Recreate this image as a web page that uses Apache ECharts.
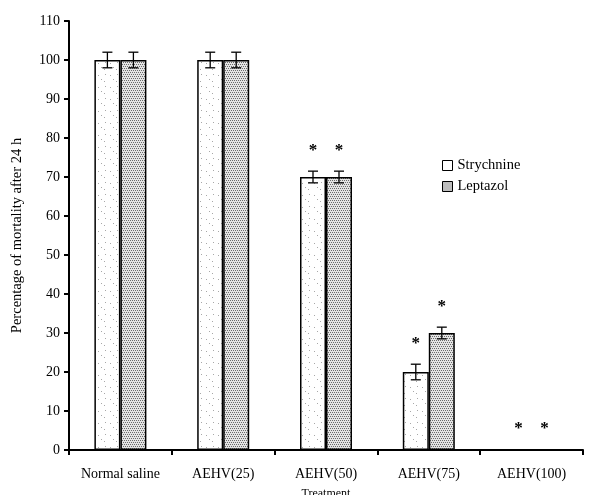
<!DOCTYPE html>
<html><head><meta charset="utf-8">
<script src="https://cdn.jsdelivr.net/npm/echarts@6/dist/echarts.min.js"></script>
<style>html,body{margin:0;padding:0;background:#fff}#c{width:606px;height:495px}</style>
</head><body><div id="c"></div>
<script>
var categories = ['Normal saline', 'AEHV(25)', 'AEHV(50)', 'AEHV(75)', 'AEHV(100)'];
var strychnine = [100, 100, 70, 20, 0];
var strychnineErr = [2, 2, 1.5, 2, 0];
var leptazol = [100, 100, 70, 30, 0];
var leptazolErr = [2, 2, 1.5, 1.5, 0];
var strychnineSig = [false, false, true, true, true];
var leptazolSig = [false, false, true, true, true];
var yTicks = [0, 10, 20, 30, 40, 50, 60, 70, 80, 90, 100, 110];

function makePattern(dense) {
  var c = document.createElement('canvas');
  c.width = 12; c.height = 12;
  var g = c.getContext('2d');
  g.fillStyle = dense ? '#e4e4e4' : '#fff'; g.fillRect(0, 0, 12, 12);
  if (dense) {
    g.fillStyle = '#6a6a6a';
    for (var y = 0; y < 12; y += 2) for (var x = (y % 4 === 0 ? 0 : 1); x < 12; x += 2) g.fillRect(x, y, 1, 1);
  } else {
    g.fillStyle = '#a8a8a8';
    g.fillRect(2, 3, 1, 1); g.fillRect(8, 9, 1, 1); g.fillRect(5, 7, 1, 1); g.fillRect(9, 2, 1, 1);
  }
  return { image: c, repeat: 'repeat' };
}
var patS = makePattern(false), patL = makePattern(true);

var chart = echarts.init(document.getElementById('c'));
var font = 'Liberation Serif';

function errData(vals, errs) {
  return vals.map(function (v, i) { return [i, v - errs[i], v + errs[i]]; });
}
function errSeries(vals, errs, offset) {
  return {
    type: 'custom', z: 5, silent: true,
    renderItem: function (params, api) {
      var lo = api.value(1), hi = api.value(2);
      if (hi === lo) return null;
      var pHi = api.coord([api.value(0), hi]);
      var pLo = api.coord([api.value(0), lo]);
      var x = pHi[0] + offset;
      var st = { stroke: '#000', lineWidth: 1.3 };
      return { type: 'group', children: [
        { type: 'line', shape: { x1: x, y1: pHi[1], x2: x, y2: pLo[1] }, style: st },
        { type: 'line', shape: { x1: x - 5, y1: pHi[1], x2: x + 5, y2: pHi[1] }, style: st },
        { type: 'line', shape: { x1: x - 5, y1: pLo[1], x2: x + 5, y2: pLo[1] }, style: st }
      ] };
    },
    data: errData(vals, errs)
  };
}
function sigSeries(vals, errs, sig, offset) {
  return {
    type: 'custom', z: 6, silent: true,
    renderItem: function (params, api) {
      var p = api.coord([api.value(0), api.value(1)]);
      return { type: 'text', style: { text: '*', x: p[0] + offset, y: p[1] - 21, textAlign: 'center', textVerticalAlign: 'middle', font: 'bold 17px ' + font, fill: '#000' } };
    },
    data: vals.map(function (v, i) { return sig[i] ? [i, v + errs[i]] : null; }).filter(function (d) { return d; })
  };
}

chart.setOption({
  animation: false,
  backgroundColor: '#fff',
  textStyle: { fontFamily: font },
  grid: { left: 69, right: 23, top: 21, bottom: 45, containLabel: false, outerBoundsMode: 'none' },
  legend: {
    orient: 'vertical', left: 437, top: 153, itemGap: 6,
    itemWidth: 10, itemHeight: 10,
    textStyle: { fontFamily: font, fontSize: 14.5, color: '#000' },
    data: [
      { name: 'Strychnine', icon: 'rect', itemStyle: { color: '#fff', borderColor: '#000', borderWidth: 1 } },
      { name: 'Leptazol', icon: 'rect', itemStyle: { color: '#bdbdbd', borderColor: '#000', borderWidth: 1 } }
    ]
  },
  xAxis: {
    type: 'category', data: categories,
    name: 'Treatment', nameLocation: 'middle', nameGap: 38,
    nameTextStyle: { fontFamily: font, fontSize: 12, color: '#000' },
    axisLine: { lineStyle: { color: '#000', width: 2 } },
    axisTick: { show: true, length: 5, lineStyle: { color: '#000', width: 2 } },
    axisLabel: { fontFamily: font, fontSize: 14, color: '#000', margin: 17 }
  },
  yAxis: {
    type: 'value', min: 0, max: 110, interval: 10,
    name: 'Percentage of mortality after 24 h', nameLocation: 'middle', nameGap: 44,
    nameTextStyle: { fontFamily: font, fontSize: 14.5, color: '#000' },
    axisLine: { show: true, lineStyle: { color: '#000', width: 2 } },
    axisTick: { show: true, length: 5, lineStyle: { color: '#000', width: 2 } },
    splitLine: { show: false },
    axisLabel: { fontFamily: font, fontSize: 14, color: '#000', margin: 9,
      formatter: function (v) { return yTicks.indexOf(v) >= 0 ? String(v) : ''; } }
  },
  series: [
    { name: 'Strychnine', type: 'bar', data: strychnine, barWidth: 26, barGap: '0%',
      itemStyle: { color: patS, borderColor: '#000', borderWidth: 1.5 } },
    { name: 'Leptazol', type: 'bar', data: leptazol, barWidth: 26,
      itemStyle: { color: patL, borderColor: '#000', borderWidth: 1.5 } },
    errSeries(strychnine, strychnineErr, -13),
    errSeries(leptazol, leptazolErr, 13),
    sigSeries(strychnine, strychnineErr, strychnineSig, -13),
    sigSeries(leptazol, leptazolErr, leptazolSig, 13)
  ]
});
</script></body></html>
